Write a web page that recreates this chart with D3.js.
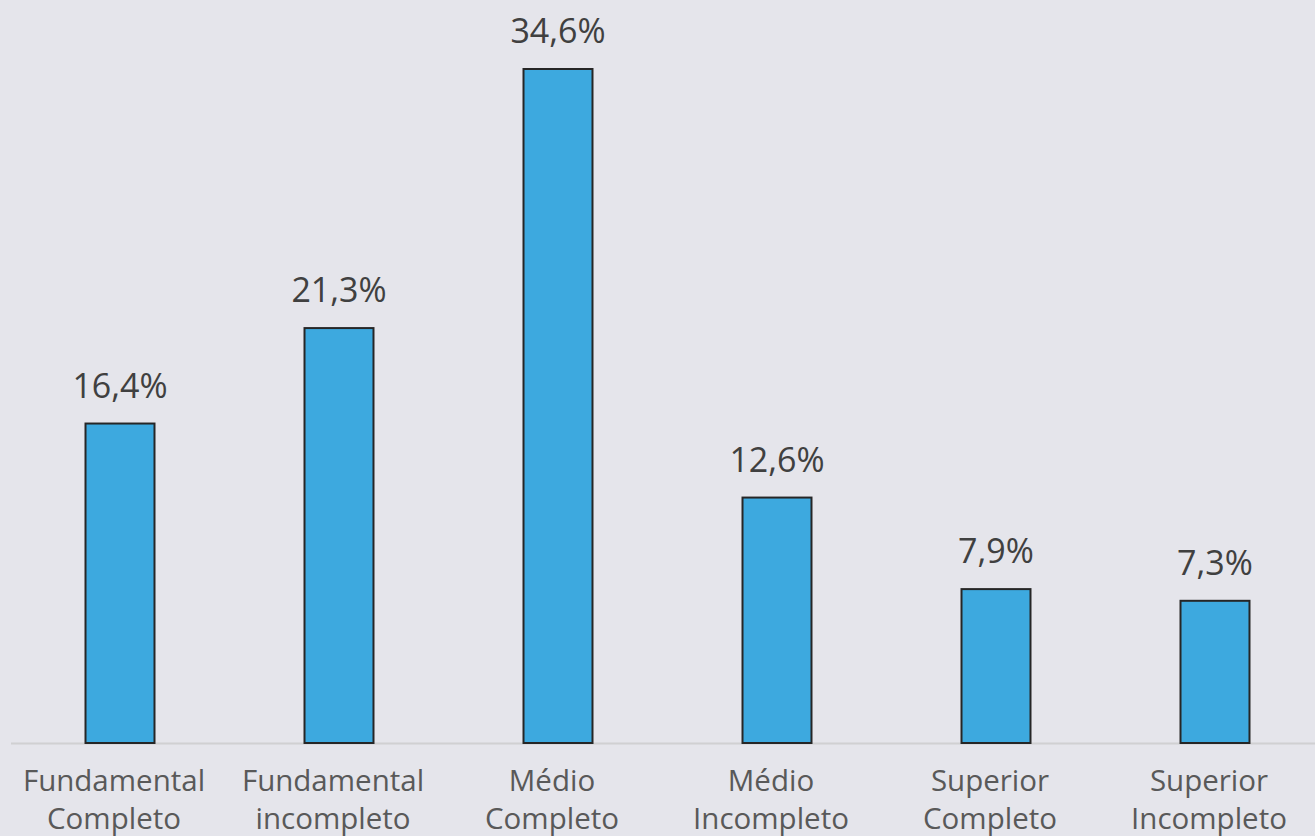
<!DOCTYPE html>
<html><head><meta charset="utf-8">
<script src="https://cdn.jsdelivr.net/npm/d3@7"></script>
<style>html,body{margin:0;padding:0;background:#E5E5EB;}svg{display:block;}</style>
</head><body>
<script>
const categories = [["Fundamental","Completo"],["Fundamental","incompleto"],["Médio","Completo"],["Médio","Incompleto"],["Superior","Completo"],["Superior","Incompleto"]];
const values = [16.4, 21.3, 34.6, 12.6, 7.9, 7.3];
const valueLabels = ["16,4%","21,3%","34,6%","12,6%","7,9%","7,3%"];

const W = 1315, H = 836;
const svg = d3.select("body").append("svg").attr("width", W).attr("height", H);
svg.append("rect").attr("width", W).attr("height", H).attr("fill", "#E5E5EB");

const keys = categories.map((c,i)=>i);
const x = d3.scaleBand().domain(keys).range([10.5, 1324.5]).paddingInner(0.685).paddingOuter(0.3425);
const y = d3.scaleLinear().domain([0, 34.6]).range([743, 69]);

svg.append("line").attr("x1", 11).attr("x2", W).attr("y1", 743.5).attr("y2", 743.5)
  .attr("stroke", "#D0D0D2").attr("stroke-width", 2);

svg.selectAll("rect.bar").data(values).join("rect").attr("class","bar")
  .attr("x", (d,i)=>x(i)).attr("width", x.bandwidth())
  .attr("y", d=>y(d)).attr("height", d=>y(0)-y(d))
  .attr("fill", "#3DA9DF").attr("stroke", "#262626").attr("stroke-width", 2);

svg.selectAll("text.val").data(values).join("text").attr("class","val")
  .attr("x", (d,i)=>x(i)+x.bandwidth()/2).attr("y", d=>y(d)-26)
  .attr("text-anchor","middle").attr("font-family","'Open Sans', sans-serif")
  .attr("font-size", 34).attr("fill", "#404040").text((d,i)=>valueLabels[i]);

const cat = svg.selectAll("text.cat").data(categories).join("text").attr("class","cat")
  .attr("text-anchor","middle").attr("font-family","'Open Sans', sans-serif")
  .attr("font-size", 29.5).attr("fill", "#595959");
cat.each(function(d,i){
  const t = d3.select(this);
  d.forEach((line,j)=>{
    t.append("tspan").attr("x", x(i)+x.bandwidth()/2 - 6).attr("y", 791 + j*38).text(line);
  });
});
</script>
</body></html>
